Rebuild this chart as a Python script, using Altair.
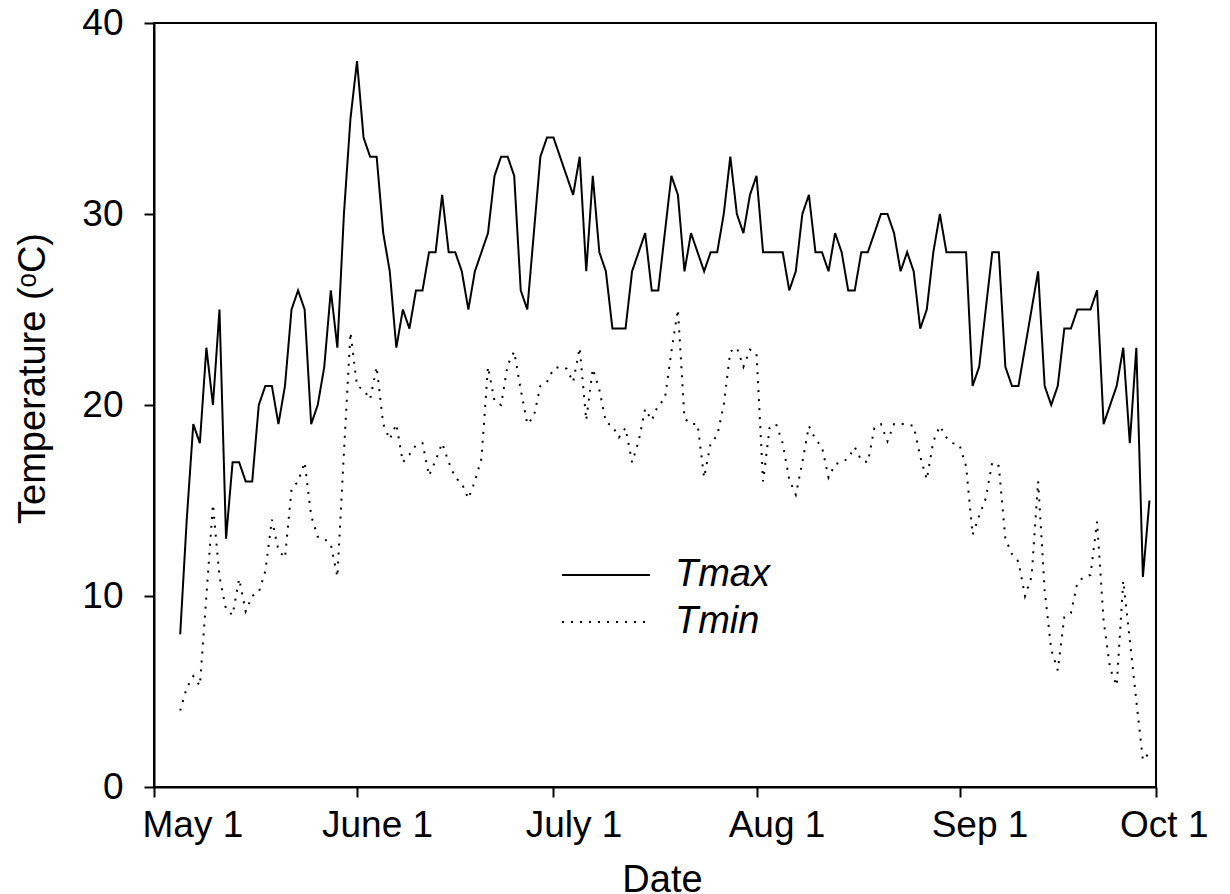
import altair as alt
import pandas as pd

start_date = "2013-05-05"

tmax_may = [8, 14, 19, 18, 23, 20, 25, 13, 17, 17, 16, 16, 20, 21, 21, 19, 21, 25, 26, 25, 19, 20, 22, 26, 23, 30, 35]
tmax_jun = [38, 34, 33, 33, 29, 27, 23, 25, 24, 26, 26, 28, 28, 31, 28, 28, 27, 25, 27, 28, 29, 32, 33, 33, 32, 26, 25, 29, 33, 34]
tmax_jul = [34, 33, 32, 31, 33, 27, 32, 28, 27, 24, 24, 24, 27, 28, 29, 26, 26, 29, 32, 31, 27, 29, 28, 27, 28, 28, 30, 33, 30, 29, 31]
tmax_aug = [32, 28, 28, 28, 28, 26, 27, 30, 31, 28, 28, 27, 29, 28, 26, 26, 28, 28, 29, 30, 30, 29, 27, 28, 27, 24, 25, 28, 30, 28, 28]
tmax_sep = [28, 28, 21, 22, 25, 28, 28, 22, 21, 21, 23, 25, 27, 21, 20, 21, 24, 24, 25, 25, 25, 26, 19, 20, 21, 23, 18, 23, 11, 15]

tmin_may = [4.0, 5.2, 5.8, 5.3, 10.0, 14.8, 11.0, 9.3, 9.0, 10.9, 9.2, 10.0, 10.2, 11.3, 14.0, 12.4, 12.0, 15.6, 16.0, 17.0, 14.2, 13.1, 13.0, 12.7, 11.0, 17.5, 23.8]
tmin_jun = [21.0, 20.8, 20.3, 22.0, 19.0, 18.2, 19.0, 17.0, 17.4, 17.9, 18.0, 16.3, 17.1, 18.0, 17.0, 16.2, 15.9, 15.1, 16.0, 17.2, 22.0, 20.2, 20.0, 22.1, 22.8, 20.8, 19.0, 19.4, 21.0, 21.2]
tmin_jul = [21.9, 22.0, 21.9, 21.2, 23.0, 19.2, 21.9, 20.8, 19.1, 18.9, 18.3, 18.8, 17.0, 18.1, 19.8, 19.2, 20.0, 20.3, 22.8, 25.0, 19.3, 19.0, 19.0, 16.2, 18.0, 18.4, 20.0, 22.8, 23.0, 22.0, 22.9]
tmin_aug = [22.7, 16.0, 18.8, 19.0, 18.0, 16.1, 15.3, 17.0, 18.9, 18.2, 17.8, 16.2, 16.9, 17.0, 17.2, 17.8, 17.1, 17.0, 18.8, 19.0, 18.1, 19.0, 19.0, 19.0, 18.9, 17.3, 16.1, 18.1, 18.9, 18.3, 18.0]
tmin_sep = [17.9, 16.8, 13.2, 14.2, 15.1, 17.0, 16.8, 13.0, 12.2, 11.8, 10.0, 11.0, 16.0, 10.3, 7.2, 6.1, 8.9, 9.1, 10.7, 11.0, 11.1, 13.9, 8.7, 6.2, 5.3, 10.8, 7.7, 4.5, 1.4, 1.8]

series_names = ["Tmax", "Tmin"]
tick_months = [5, 6, 7, 8, 9, 10]
tick_labels = ["May 1", "June 1", "July 1", "Aug 1", "Sep 1", "Oct 1"]
y_ticks = [0, 10, 20, 30, 40]

tmax = tmax_may + tmax_jun + tmax_jul + tmax_aug + tmax_sep
tmin = tmin_may + tmin_jun + tmin_jul + tmin_aug + tmin_sep
dates = pd.date_range(start_date, periods=len(tmax), freq="D").strftime("%Y-%m-%dT00:00:00Z")

df = pd.DataFrame({"date": list(dates) * 2,
                   "temp": tmax + tmin,
                   "series": [series_names[0]] * len(tmax) + [series_names[1]] * len(tmin)})

FONT = "Liberation Sans"
tick_vals = [alt.DateTime(year=2013, month=m, date=1, utc=True) for m in tick_months]
label_expr = "[" + ",".join("'%s'" % s for s in tick_labels) + "][utcmonth(datum.value) - 4]"

chart = alt.Chart(df).mark_line(color="black", strokeWidth=2).encode(
    x=alt.X("date:T",
            scale=alt.Scale(type="utc", domain=[tick_vals[0], tick_vals[-1]]),
            axis=alt.Axis(values=tick_vals, labelExpr=label_expr, title="Date",
                          labelPadding=10, labelOffset=20, labelFlush=True,
                          labelFlushOffset=32, titlePadding=18,
                          titleFontSize=38, titleX=508, titleAlign="center")),
    y=alt.Y("temp:Q", scale=alt.Scale(domain=[0, 40], nice=False),
            axis=alt.Axis(values=y_ticks, title="Temperature (ᵒC)",
                          labelPadding=21, titlePadding=29, titleFontSize=38,
                          titleY=355)),
    strokeDash=alt.StrokeDash("series:N",
                              scale=alt.Scale(domain=series_names, range=[[1, 0], [2, 7]]),
                              legend=alt.Legend(orient="none", legendX=433, legendY=533,
                                                title=None, symbolType="M-4,0L4,0",
                                                symbolSize=484, symbolStrokeWidth=2,
                                                symbolStrokeColor="black",
                                                symbolFillColor="transparent",
                                                labelFont=FONT, labelFontStyle="italic",
                                                labelFontSize=38, labelColor="black",
                                                labelOffset=50, rowPadding=9, padding=0)),
    order=alt.Order("date:T"),
).properties(
    width=1002, height=764,
    autosize=alt.AutoSizeParams(type="none"),
    padding={"left": 146, "top": 15, "right": 66, "bottom": 106},
).configure_view(
    stroke="black", strokeWidth=2
).configure_axis(
    grid=False, domainColor="black", domainWidth=2, tickColor="black", tickWidth=2,
    tickSize=10, labelFont=FONT, labelFontSize=37, labelColor="black",
    titleFont=FONT, titleFontWeight="normal", titleColor="black"
)

chart.save("out.html", embed_options={"renderer": "svg", "actions": False})
